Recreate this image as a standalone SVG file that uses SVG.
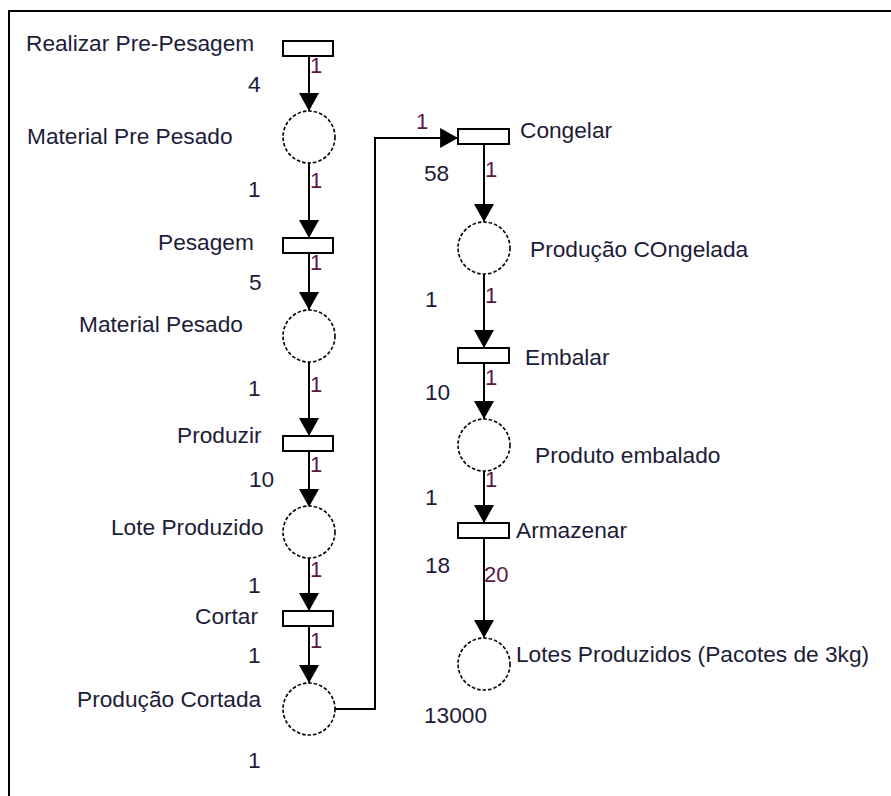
<svg xmlns="http://www.w3.org/2000/svg" width="891" height="796" viewBox="0 0 891 796">
<style>
.t{font-family:"Liberation Sans",Arial,sans-serif;font-size:22.7px;fill:#1c1c38}
.w{font-family:"Liberation Sans",Arial,sans-serif;font-size:22px;fill:#5a1848}
.tr{fill:#fff;stroke:#000;stroke-width:2}
.pl{fill:#fff;stroke:#000;stroke-width:1.6;stroke-dasharray:3.5 2}
.a{fill:none;stroke:#000;stroke-width:2;marker-end:url(#ah)}
.c{fill:none;stroke:#000;stroke-width:2}
</style>
<defs>
<marker id="ah" markerUnits="userSpaceOnUse" markerWidth="20" markerHeight="20" refX="17" refY="9.5" orient="auto" viewBox="0 0 18 19">
<path d="M0,0 L17,9.5 L0,19 Z" fill="#000"/>
</marker>
</defs>
<rect width="891" height="796" fill="#fff"/>
<g id="frame"><path class="c" d="M9,796 V11 H891"/></g>
<g id="connectors">
<path class="a" d="M309,56 V111"/>
<path class="a" d="M309,163 V238"/>
<path class="a" d="M309,253 V310"/>
<path class="a" d="M309,362 V436"/>
<path class="a" d="M309,451 V507"/>
<path class="a" d="M309,558 V611"/>
<path class="a" d="M309,626 V683"/>
<path class="a" d="M335,709 H375 V138 H458"/>
<path class="a" d="M484,144 V222"/>
<path class="a" d="M484,274 V348"/>
<path class="a" d="M484,363 V419"/>
<path class="a" d="M484,471 V523"/>
<path class="a" d="M484,538 V638"/>
<text class="w" x="310" y="73">1</text>
<text class="w" x="310" y="188">1</text>
<text class="w" x="310" y="270">1</text>
<text class="w" x="310" y="392">1</text>
<text class="w" x="310" y="472">1</text>
<text class="w" x="310" y="577">1</text>
<text class="w" x="310" y="648">1</text>
<text class="w" x="416" y="129">1</text>
<text class="w" x="485" y="177">1</text>
<text class="w" x="485" y="303">1</text>
<text class="w" x="485" y="385">1</text>
<text class="w" x="485" y="487">1</text>
<text class="w" x="484" y="582">20</text>
</g>
<g id="t-realizar"><rect class="tr" x="283" y="41" width="50" height="15"/><text class="t" x="26" y="51">Realizar Pre-Pesagem</text><text class="t" x="248" y="92">4</text></g>
<g id="p-material-pre-pesado"><circle class="pl" cx="309" cy="137" r="26"/><text class="t" x="27" y="144">Material Pre Pesado</text><text class="t" x="248" y="197">1</text></g>
<g id="t-pesagem"><rect class="tr" x="283" y="238" width="50" height="15"/><text class="t" x="158" y="250">Pesagem</text><text class="t" x="249" y="290">5</text></g>
<g id="p-material-pesado"><circle class="pl" cx="309" cy="336" r="26"/><text class="t" x="79" y="332">Material Pesado</text><text class="t" x="248" y="396">1</text></g>
<g id="t-produzir"><rect class="tr" x="283" y="436" width="50" height="15"/><text class="t" x="177" y="443">Produzir</text><text class="t" x="249" y="487">10</text></g>
<g id="p-lote-produzido"><circle class="pl" cx="309" cy="532" r="26"/><text class="t" x="111" y="535">Lote Produzido</text><text class="t" x="248" y="593">1</text></g>
<g id="t-cortar"><rect class="tr" x="283" y="611" width="50" height="15"/><text class="t" x="195" y="624">Cortar</text><text class="t" x="248" y="663">1</text></g>
<g id="p-producao-cortada"><circle class="pl" cx="309" cy="709" r="26"/><text class="t" x="77" y="707">Produção Cortada</text><text class="t" x="248" y="768">1</text></g>
<g id="t-congelar"><rect class="tr" x="458" y="129" width="51" height="15"/><text class="t" x="520" y="138">Congelar</text><text class="t" x="424" y="181">58</text></g>
<g id="p-producao-congelada"><circle class="pl" cx="484" cy="248" r="26"/><text class="t" x="530" y="257">Produção COngelada</text><text class="t" x="425" y="307">1</text></g>
<g id="t-embalar"><rect class="tr" x="458" y="348" width="51" height="15"/><text class="t" x="525" y="365">Embalar</text><text class="t" x="425" y="400">10</text></g>
<g id="p-produto-embalado"><circle class="pl" cx="484" cy="445" r="26"/><text class="t" x="535" y="463">Produto embalado</text><text class="t" x="425" y="505">1</text></g>
<g id="t-armazenar"><rect class="tr" x="458" y="523" width="51" height="15"/><text class="t" x="516" y="538">Armazenar</text><text class="t" x="425" y="573">18</text></g>
<g id="p-lotes-produzidos"><circle class="pl" cx="484" cy="664" r="26"/><text class="t" x="516" y="662">Lotes Produzidos (Pacotes de 3kg)</text><text class="t" x="424" y="723">13000</text></g>
</svg>
